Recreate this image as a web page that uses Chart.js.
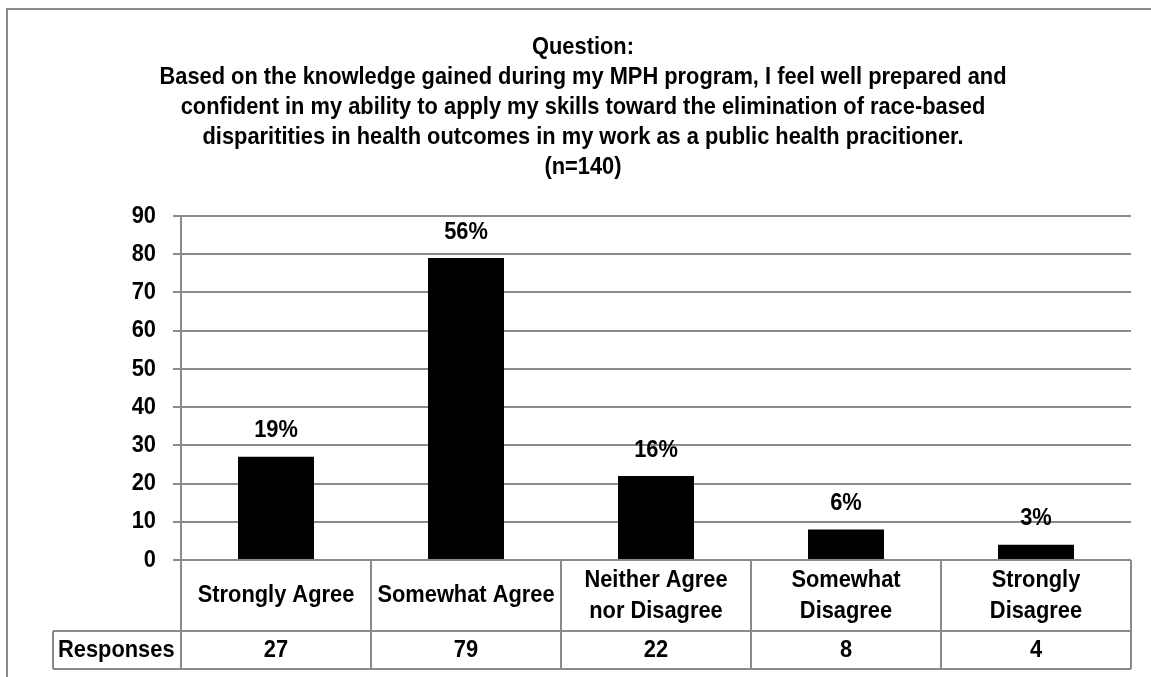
<!DOCTYPE html>
<html>
<head>
<meta charset="utf-8">
<script src="https://cdn.jsdelivr.net/npm/chart.js@4/dist/chart.umd.min.js"></script>
<style>
  html, body { margin: 0; padding: 0; background: #fff; }
  #wrap { width: 1151px; height: 677px; position: relative; }
</style>
</head>
<body>
<div id="wrap"><canvas id="myChart" width="1151" height="677"></canvas></div>
<script>
// ---- data ----
const titleLines = [
    "Question:",
    "Based on the knowledge gained during my MPH program, I feel well prepared and",
    "confident in my ability to apply my skills toward the elimination of race-based",
    "disparitities in health outcomes in my work as a public health pracitioner.",
    "(n=140)"
];
const categories = [
    ["Strongly Agree"],
    ["Somewhat Agree"],
    ["Neither Agree", "nor Disagree"],
    ["Somewhat", "Disagree"],
    ["Strongly", "Disagree"]
];
const responses = [27, 79, 22, 8, 4];
const totalN = 140;
const rowLabel = "Responses";
const yTicks = [0, 10, 20, 30, 40, 50, 60, 70, 80, 90];

const FONT = "'Liberation Sans', Arial, sans-serif";
const LINE = "#8a8a8a";
const NARROW = 0.91; // squeeze text horizontally, narrow-face look

// bold narrow text at (x, y)
function narrowText(ctx, text, x, y, align) {
    ctx.save();
    ctx.translate(x, y);
    ctx.scale(NARROW, 1);
    ctx.textAlign = align || "center";
    ctx.textBaseline = "middle";
    ctx.fillStyle = "#000";
    ctx.font = "bold 24px " + FONT;
    ctx.fillText(text, 0, 0);
    ctx.restore();
}

// outer frame + title
const framePlugin = {
    id: "frame",
    beforeDraw(chart) {
        const ctx = chart.ctx;
        ctx.save();
        ctx.fillStyle = "#fff";
        ctx.fillRect(0, 0, chart.width, chart.height);
        ctx.strokeStyle = LINE;
        ctx.lineWidth = 2;
        ctx.beginPath();
        ctx.moveTo(7, chart.height + 5);
        ctx.lineTo(7, 9);
        ctx.lineTo(chart.width + 5, 9);
        ctx.stroke();
        ctx.restore();

        titleLines.forEach((t, i) => narrowText(ctx, t, 583, 47 + i * 30));
    }
};

// y tick labels, percent labels over bars, data table under the axis
const tablePlugin = {
    id: "dataTable",
    afterDraw(chart) {
        const ctx = chart.ctx;
        const x = chart.scales.x;
        const y = chart.scales.y;
        const area = chart.chartArea;
        const meta = chart.getDatasetMeta(0);
        const step = x.getPixelForValue(1) - x.getPixelForValue(0);
        const row1 = area.bottom;
        const row2 = row1 + 71;
        const row3 = row2 + 38;
        const labelLeft = 53;

        // axis numbers
        y.ticks.forEach(t => {
            narrowText(ctx, String(t.value), area.left - 25, y.getPixelForValue(t.value), "right");
        });

        // percent labels
        meta.data.forEach((bar, i) => {
            const pct = Math.round(responses[i] / totalN * 100) + "%";
            narrowText(ctx, pct, bar.x, bar.y - 26);
        });

        // table lines
        ctx.save();
        ctx.strokeStyle = LINE;
        ctx.lineWidth = 2;
        ctx.beginPath();
        for (let i = 0; i <= categories.length; i++) {
            const cx = Math.round(x.getPixelForValue(0) - step / 2 + i * step);
            ctx.moveTo(cx, row1);
            ctx.lineTo(cx, row3);
        }
        ctx.moveTo(labelLeft, row2);
        ctx.lineTo(area.right, row2);
        ctx.moveTo(labelLeft, row3);
        ctx.lineTo(area.right, row3);
        ctx.moveTo(labelLeft, row2);
        ctx.lineTo(labelLeft, row3);
        ctx.stroke();
        ctx.restore();

        // category names and counts
        categories.forEach((lines, i) => {
            const cx = x.getPixelForValue(i);
            const mid = (row1 + row2) / 2;
            lines.forEach((t, j) => {
                narrowText(ctx, t, cx, mid + (j - (lines.length - 1) / 2) * 31);
            });
            narrowText(ctx, String(responses[i]), cx, (row2 + row3) / 2);
        });

        narrowText(ctx, rowLabel, labelLeft + 5, (row2 + row3) / 2, "left");
    }
};

new Chart(document.getElementById("myChart"), {
    type: "bar",
    data: {
        labels: categories.map(c => c.join(" ")),
        datasets: [{
            label: rowLabel,
            data: responses,
            backgroundColor: "#000",
            borderWidth: 0,
            categoryPercentage: 1,
            barPercentage: 0.4
        }]
    },
    options: {
        responsive: false,
        animation: false,
        layout: {
            padding: { top: 216, right: 20, bottom: 117, left: 0 }
        },
        plugins: {
            legend: { display: false },
            tooltip: { enabled: false },
            title: { display: false }
        },
        scales: {
            x: {
                display: false,
                grid: { display: false }
            },
            y: {
                min: yTicks[0],
                max: yTicks[yTicks.length - 1],
                afterBuildTicks(scale) {
                    scale.ticks = yTicks.map(v => ({ value: v }));
                },
                afterFit(scale) {
                    scale.width = 181;
                },
                border: { display: true, color: LINE, width: 2 },
                grid: {
                    color: LINE,
                    lineWidth: 2,
                    tickLength: 8,
                    drawTicks: true
                },
                ticks: {
                    display: false
                }
            }
        }
    },
    plugins: [framePlugin, tablePlugin]
});
</script>
</body>
</html>
